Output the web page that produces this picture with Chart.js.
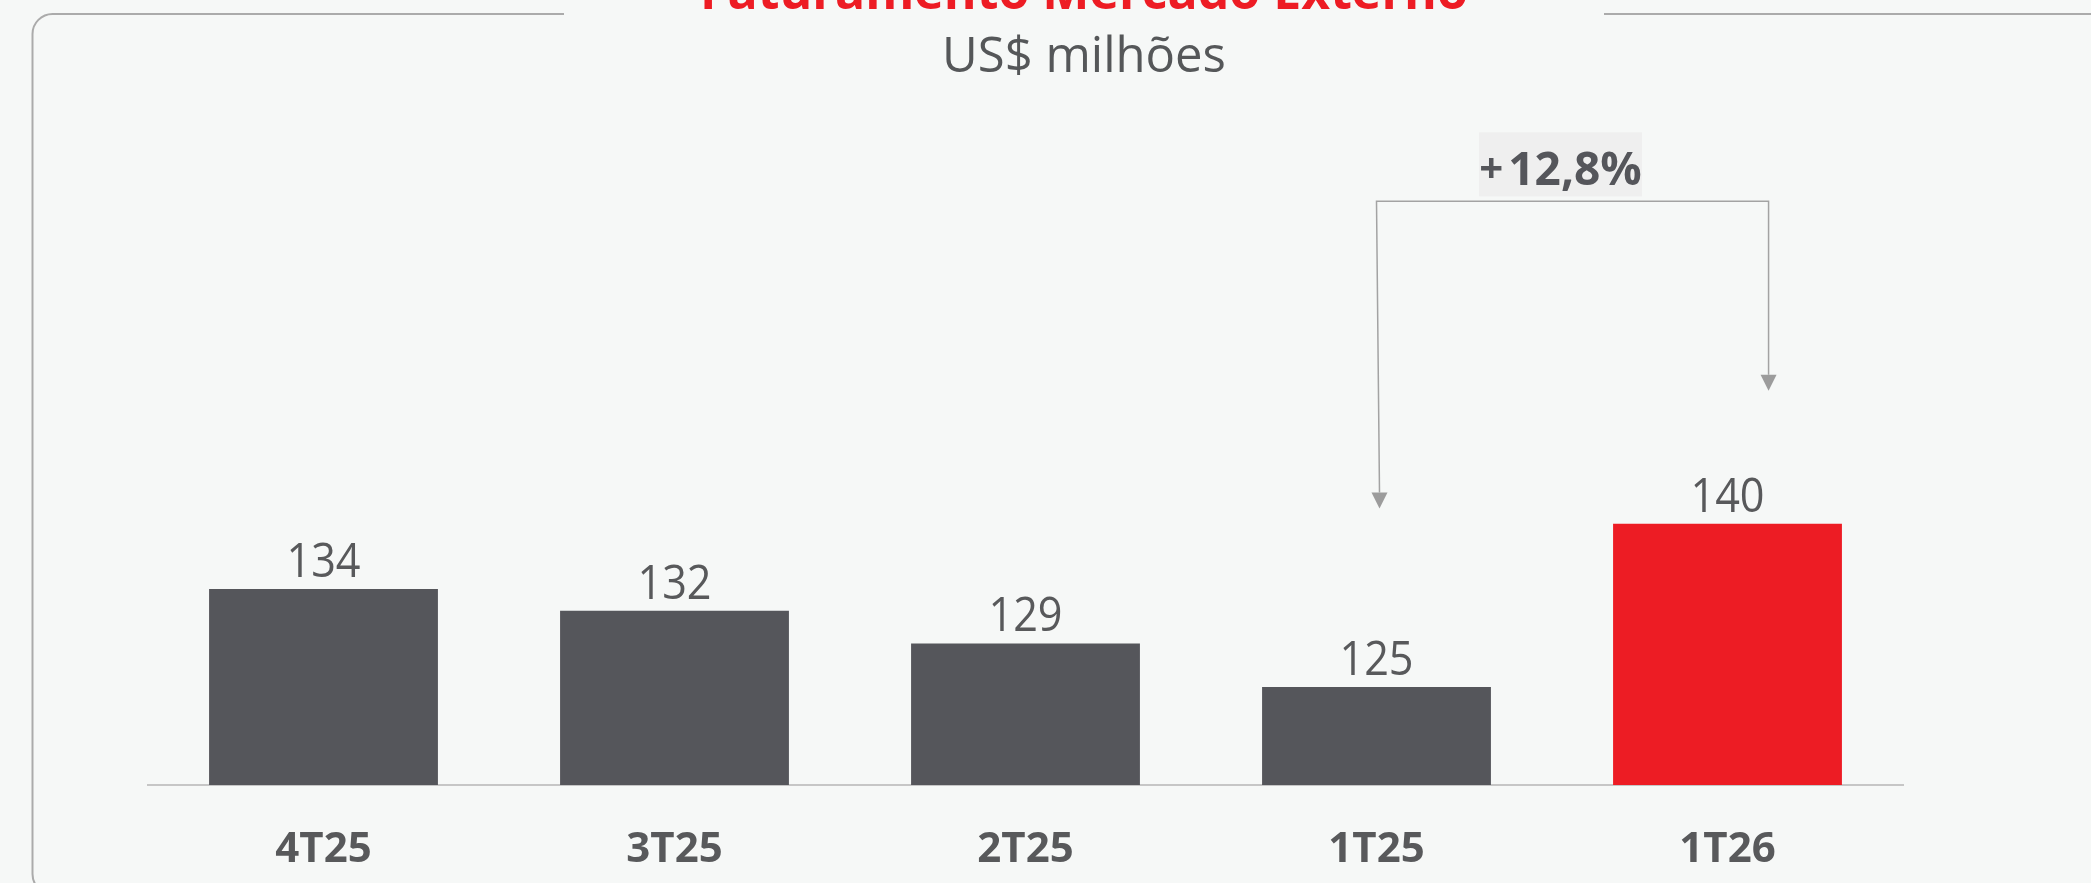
<!DOCTYPE html>
<html>
<head>
<meta charset="utf-8">
<script src="https://cdn.jsdelivr.net/npm/chart.js@4.4.1/dist/chart.umd.min.js"></script>
<style>
  html, body { margin: 0; padding: 0; background: #F6F8F7; }
  #wrap { width: 2091px; height: 883px; position: relative; }
  canvas { display: block; }
</style>
</head>
<body>
<div id="wrap"><canvas id="c" width="2091" height="883"></canvas></div>
<script>
// ---- data ----
const categories = ['4T25', '3T25', '2T25', '1T25', '1T26'];
const values = [134, 132, 129, 125, 140];
const barColors = ['#55565B', '#55565B', '#55565B', '#55565B', '#ED1C24'];
const titleText = 'Faturamento Mercado Externo';
const subtitleText = 'US$ milhões';
const growthLabel = '+12,8%';
const growthFrom = 3;   // index of 1T25
const growthTo = 4;     // index of 1T26
const growthArrowTips = [141.4, 152.2]; // value level of arrow tips (left, right)
const growthTopLevel = 169.6;           // value level of bracket top line

const FONT = '"Open Sans", "Noto Sans", "DejaVu Sans", sans-serif';

const framePlugin = {
  id: 'frame',
  beforeDraw(chart) {
    const ctx = chart.ctx;
    ctx.save();
    ctx.fillStyle = '#F6F8F7';
    ctx.fillRect(0, 0, chart.width, chart.height);
    // rounded frame with gap for the title
    const x0 = 32.5, y0 = 14, r = 20;
    const gapL = 564, gapR = 1604;
    ctx.strokeStyle = '#ABABAB';
    ctx.lineWidth = 2;
    ctx.beginPath();
    ctx.moveTo(gapL, y0);
    ctx.lineTo(x0 + r, y0);
    ctx.arcTo(x0, y0, x0, y0 + r, r);
    ctx.lineTo(x0, 874);
    ctx.arcTo(x0, 894, x0 + r, 894, r);
    ctx.stroke();
    ctx.beginPath();
    ctx.moveTo(gapR, y0);
    ctx.lineTo(chart.width + 5, y0);
    ctx.stroke();
    // titles
    const cx = 1084;
    ctx.textAlign = 'center';
    ctx.textBaseline = 'alphabetic';
    ctx.fillStyle = '#ED1C24';
    ctx.font = 'bold 50px ' + FONT;
    ctx.fillText(titleText, cx, 9);
    ctx.fillStyle = '#555759';
    ctx.font = '400 50px ' + FONT;
    ctx.save();
    ctx.translate(cx, 72);
    ctx.scale(0.98, 1);
    ctx.fillText(subtitleText, 0, 0);
    ctx.restore();
    ctx.restore();
  }
};

const labelsPlugin = {
  id: 'valueLabels',
  afterDatasetsDraw(chart) {
    const ctx = chart.ctx;
    const meta = chart.getDatasetMeta(0);
    ctx.save();
    ctx.fillStyle = '#58595B';
    ctx.font = '400 48px ' + FONT;
    ctx.textAlign = 'center';
    ctx.textBaseline = 'alphabetic';
    meta.data.forEach((bar, i) => {
      ctx.save();
      ctx.translate(bar.x, bar.y - 12);
      ctx.scale(0.9, 1);
      ctx.fillText(String(values[i]), 0, 0);
      ctx.restore();
    });

    // growth bracket
    const xs = chart.scales.x, ys = chart.scales.y;
    const catW = xs.getPixelForValue(1) - xs.getPixelForValue(0);
    const xL = xs.getPixelForValue(growthFrom);
    const xR = xs.getPixelForValue(growthTo) + 0.117 * catW;
    const yTop = ys.getPixelForValue(growthTopLevel);
    const yTipL = ys.getPixelForValue(growthArrowTips[0]);
    const yTipR = ys.getPixelForValue(growthArrowTips[1]);
    const ah = 16, aw = 8;
    ctx.strokeStyle = '#A3A3A3';
    ctx.lineWidth = 1.5;
    ctx.beginPath();
    ctx.moveTo(xL + 3, yTipL - ah);
    ctx.lineTo(xL, yTop);
    ctx.lineTo(xR, yTop);
    ctx.lineTo(xR, yTipR - ah);
    ctx.stroke();
    ctx.fillStyle = '#9C9C9C';
    [[xL + 3, yTipL], [xR, yTipR]].forEach(([x, y]) => {
      ctx.beginPath();
      ctx.moveTo(x - aw, y - ah);
      ctx.lineTo(x + aw, y - ah);
      ctx.lineTo(x, y);
      ctx.closePath();
      ctx.fill();
    });
    // label box
    const boxCx = (xL + xR) / 2 - 12;
    const boxW = 163, boxH = 64;
    ctx.fillStyle = '#EFEFEF';
    ctx.fillRect(boxCx - boxW / 2, yTop - 5 - boxH, boxW, boxH);
    ctx.fillStyle = '#55565B';
    ctx.textAlign = 'left';
    const plus = growthLabel.slice(0, 1), rest = growthLabel.slice(1);
    ctx.font = 'bold 42px ' + FONT;
    const pw = ctx.measureText(plus).width;
    ctx.font = 'bold 46px ' + FONT;
    const rw = ctx.measureText(rest).width;
    const gap = 5;
    const startX = boxCx - (pw + gap + rw) / 2;
    const base = yTop - 16;
    ctx.font = 'bold 42px ' + FONT;
    ctx.fillText(plus, startX, base - 2);
    ctx.font = 'bold 46px ' + FONT;
    ctx.fillText(rest, startX + pw + gap, base);
    ctx.restore();
  }
};

new Chart(document.getElementById('c'), {
  type: 'bar',
  data: {
    labels: categories,
    datasets: [{
      data: values,
      backgroundColor: barColors,
      borderWidth: 0,
      barPercentage: 0.652,
      categoryPercentage: 1.0
    }]
  },
  options: {
    responsive: false,
    animation: false,
    devicePixelRatio: 1,
    layout: { padding: { left: 148, right: 188, top: 197, bottom: -32.4 } },
    plugins: { legend: { display: false }, title: { display: false }, tooltip: { enabled: false } },
    scales: {
      x: {
        grid: { display: false, drawTicks: false },
        border: { display: true, color: '#C6C6C6', width: 2 },
        ticks: { color: '#58595B', font: { family: FONT, size: 42, weight: 'bold' }, padding: 40 }
      },
      y: {
        display: false,
        min: 116,
        max: 170
      }
    }
  },
  plugins: [framePlugin, labelsPlugin]
});
</script>
</body>
</html>
